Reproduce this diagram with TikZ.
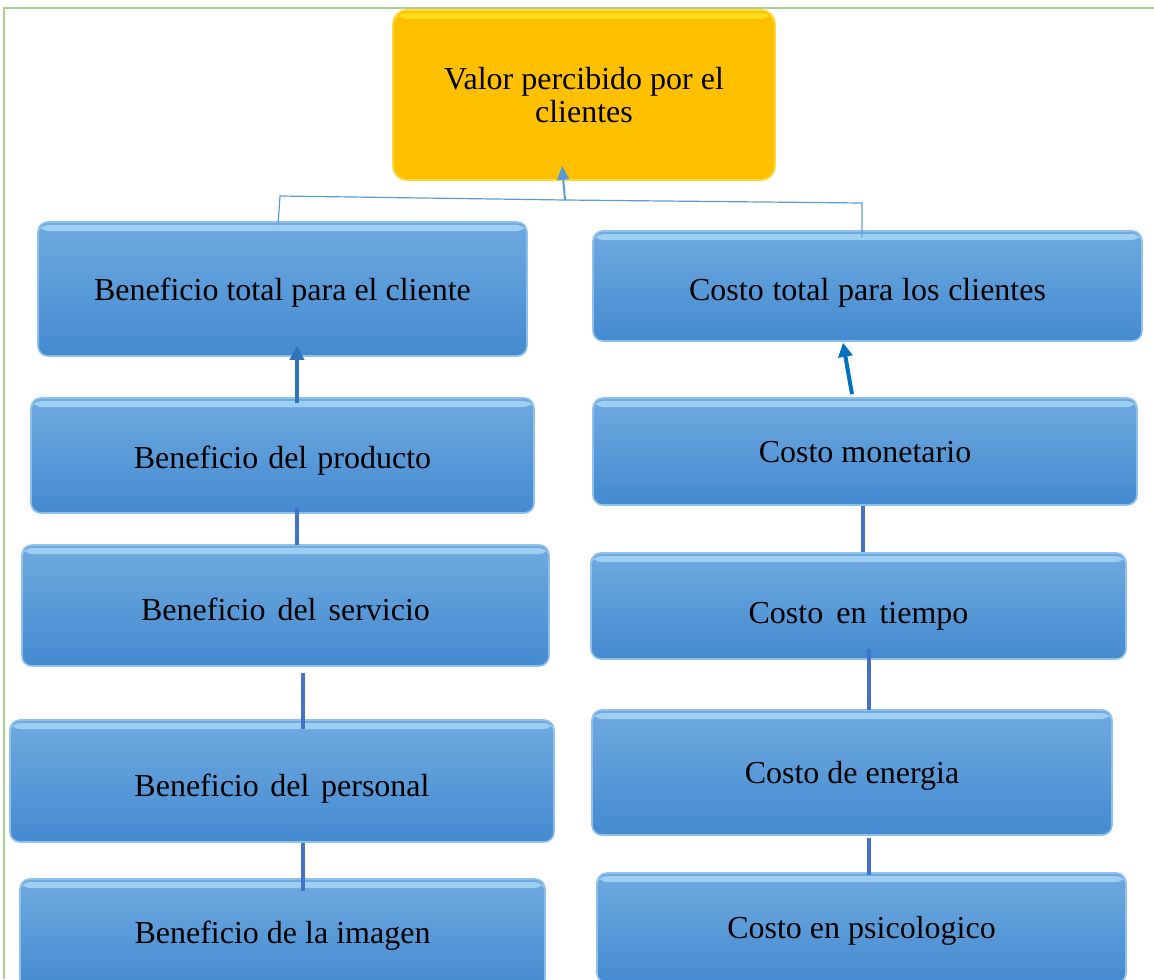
\documentclass[tikz,border=0pt]{standalone}
\usepackage{fontspec}
\setmainfont{Liberation Serif}
\usetikzlibrary{arrows.meta,calc}
\definecolor{boxtop}{HTML}{6FAAE0}
\definecolor{boxbot}{HTML}{448AD0}
\definecolor{boxedge}{HTML}{8EC0EC}
\definecolor{gloss}{HTML}{C8F0FF}
\definecolor{gold}{HTML}{FFC000}
\definecolor{goldedge}{HTML}{FFD83A}
\definecolor{linkblue}{HTML}{4472C4}
\definecolor{thinblue}{HTML}{5B9BD5}
\definecolor{arrowblue}{HTML}{2E75B6}
\definecolor{arrowblue2}{HTML}{0070C0}
\definecolor{framegreen}{HTML}{A9D08E}
\newcommand\dn[2]{\raisebox{-#1pt}[\height][\depth]{#2}}
\newcommand\wsp[1]{\hspace{#1pt}\ }
\begin{document}
\begin{tikzpicture}[x=0.5pt,y=-0.5pt,
  sz/.style 2 args={minimum width=#1*0.5pt, minimum height=#2*0.5pt},
  bluebox/.style={draw=boxedge, line width=0.8pt, rounded corners=5pt,
    top color=boxtop, bottom color=boxbot, inner sep=0pt,
    font=\fontsize{16}{18}\selectfont,
    path picture={\fill[gloss,opacity=0.55]
      ([yshift=-1.5pt]path picture bounding box.north west) rectangle
      ([yshift=-4.5pt]path picture bounding box.north east);}},
  goldbox/.style={draw=goldedge, line width=0.8pt, rounded corners=7pt,
    fill=gold, inner sep=0pt, align=center,
    font=\fontsize{16}{16.5}\selectfont,
    path picture={\fill[yellow!80!white,opacity=0.55]
      ([yshift=-1.5pt]path picture bounding box.north west) rectangle
      ([yshift=-4.5pt]path picture bounding box.north east);}},
  link/.style={linkblue, line width=2pt},
  bracket/.style={thinblue, line width=0.6pt},
]
\useasboundingbox (0,0) rectangle (1154,979);
\clip (0,0) rectangle (1154,979);
\draw[framegreen, line width=1.2pt] (4,979) -- (4,8) -- (1160,8);

\node[goldbox, sz={382}{170}] (valor) at (584,95) {Valor percibido por el\\clientes};

\node[bluebox, sz={489}{134}] (btotal) at (282.5,289) {\dn{2}{Beneficio total para el cliente}};
\node[bluebox, sz={503}{115}] (bprod) at (282.5,455.5) {\dn{2.5}{Beneficio\hspace{1pt} del\hspace{1pt} producto}};
\node[bluebox, sz={527}{121}] (bserv) at (285.5,605.5) {\dn{2}{Beneficio\hspace{2pt} del\hspace{2pt} servicio}};
\node[bluebox, sz={544}{122}] (bpers) at (282,781) {\dn{4}{Beneficio\hspace{1.8pt} del\hspace{1.8pt} personal}};
\node[bluebox, sz={525}{110}] (bimag) at (282.5,934) {\dn{1}{Beneficio de la imagen}};

\node[bluebox, sz={549}{110}] (ctotal) at (867.5,286) {\dn{3.5}{Costo\hspace{0.4pt} total\hspace{0.4pt} para\hspace{0.4pt} los\hspace{0.4pt} clientes}};
\node[bluebox, sz={544}{107}] (cmon) at (865,451.5) {\dn{0.5}{Costo monetario}};
\node[bluebox, sz={535}{106}] (ctiem) at (858.5,606) {\dn{5}{Costo\hspace{2.5pt} en\hspace{2.5pt} tiempo}};
\node[bluebox, sz={520}{125}] (cener) at (852,772.5) {\dn{1.5}{Costo de energia}};
\node[bluebox, sz={529}{110}] (cpsic) at (861.5,928) {\dn{1.5}{Costo en psicologico}};

% bracket to top box
\coordinate (bl) at (280,196);
\coordinate (bm) at (565,200);
\coordinate (br) at (862,203);
\draw[bracket] ($(btotal.north)+(-4.5,4)$) -- (bl) -- (bm) -- (br) -- ($(ctotal.north)+(-5.5,7)$);
\draw[thinblue, line width=1pt, -{Triangle[length=7pt,width=6pt]}] (bm) -- ($(valor.south)+(-22,-15)$);

% arrows to totals
\draw[arrowblue, line width=2pt, -{Triangle[length=7pt,width=7pt]}] ($(bprod.north)+(14.5,6)$) -- ($(btotal.south)+(14.5,-11)$);
\draw[arrowblue2, line width=2pt, -{Triangle[length=7pt,width=7pt]}] ($(cmon.north)+(-13,-3)$) -- ($(ctotal.south)+(-24.5,1)$);

% chain connectors left
\draw[link] ($(bprod.south)+(14.5,-6)$) -- ($(bserv.north)+(11.5,1)$);
\draw[link] ($(bserv.south)+(17.5,6)$) -- ($(bpers.north)+(21,10)$);
\draw[link] ($(bpers.south)+(21,0)$) -- ($(bimag.north)+(20.5,13)$);
% chain connectors right
\draw[link] ($(cmon.south)+(-2,0)$) -- ($(ctiem.north)+(4.5,0)$);
\draw[link] ($(ctiem.south)+(10.5,-11)$) -- ($(cener.north)+(17,1)$);
\draw[link] ($(cener.south)+(17,2)$) -- ($(cpsic.north)+(7.5,3)$);
\end{tikzpicture}
\end{document}
